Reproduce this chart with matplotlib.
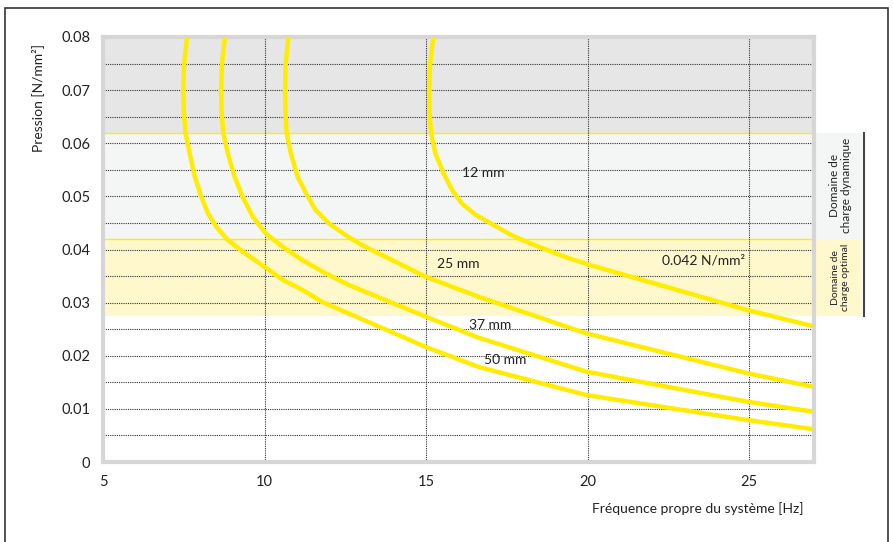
import matplotlib.pyplot as plt
from matplotlib.patches import Rectangle
import matplotlib.transforms as mtransforms

plt.rcParams['font.family'] = ['Lato', 'DejaVu Sans']

# curves: frequency [Hz] vs pressure [N/mm2]
f_50 = [7.60, 7.51, 7.48, 7.50, 7.55, 7.68, 7.84, 8.04, 8.25, 8.50, 8.86, 9.32, 9.94, 10.56,
        11.17, 11.79, 14.97, 16.62, 19.96, 24.94, 26.95]
p_50 = [0.080, 0.075, 0.070, 0.066, 0.062, 0.0581, 0.0537, 0.0499, 0.0468, 0.0443, 0.0418, 0.0396,
        0.0370, 0.0343, 0.0324, 0.0301, 0.0217, 0.0179, 0.0126, 0.0079, 0.0062]

f_37 = [8.77, 8.68, 8.65, 8.67, 8.72, 8.86, 9.07, 9.32, 9.63, 10.04, 10.56, 11.17, 11.89, 12.61,
        14.97, 16.62, 19.96, 24.94, 26.95]
p_37 = [0.080, 0.075, 0.070, 0.066, 0.062, 0.0581, 0.0537, 0.0499, 0.0462, 0.0430, 0.0405, 0.0380,
        0.0355, 0.0333, 0.0274, 0.0234, 0.0170, 0.01135, 0.0095]

f_25 = [10.74, 10.65, 10.63, 10.64, 10.68, 10.81, 11.02, 11.28, 11.58, 11.99, 12.51, 13.02,
        14.97, 16.62, 19.96, 24.94, 26.95]
p_25 = [0.080, 0.075, 0.070, 0.066, 0.062, 0.0581, 0.0537, 0.0506, 0.0474, 0.0449, 0.0427, 0.0408,
        0.0349, 0.0311, 0.0242, 0.0167, 0.0142]

f_12 = [15.22, 15.12, 15.09, 15.10, 15.15, 15.28, 15.54, 15.80, 16.10, 16.51, 17.03, 17.64, 18.36,
        19.29, 20.11, 24.94, 26.95]
p_12 = [0.080, 0.075, 0.070, 0.066, 0.062, 0.0581, 0.0543, 0.0512, 0.0487, 0.0466, 0.0448, 0.0427,
        0.0408, 0.0386, 0.0370, 0.0286, 0.0256]

curve_labels = ['12 mm', '25 mm', '37 mm', '50 mm']
label_pos = [(16.77, 0.0544), (16.0, 0.0373), (16.99, 0.0258), (17.45, 0.0192)]

# load ranges
dyn_range = (0.042, 0.062)
opt_range = (0.0275, 0.042)
x_ticks = [5, 10, 15, 20, 25]
y_ticks = [0, 0.01, 0.02, 0.03, 0.04, 0.05, 0.06, 0.07, 0.08]

yellow = '#ffec00'
fig = plt.figure(figsize=(8.93, 5.42), dpi=100)
ax = fig.add_axes([103 / 893, 1 - 462 / 542, 711 / 893, 425 / 542])
ax.set_xlim(5, 27)
ax.set_ylim(0, 0.08)

# background bands
ax.axhspan(dyn_range[1], 0.08, color='#e6e6e6', zorder=0, lw=0)
ax.axhspan(dyn_range[0], dyn_range[1], color='#f4f6f5', zorder=0, lw=0)
ax.axhspan(opt_range[0], opt_range[1], color='#fff8cc', zorder=0, lw=0)
ax.axhline(dyn_range[1], color=yellow, lw=1, zorder=1)
ax.axhline(dyn_range[0], color=yellow, lw=1, zorder=1)

# grid
for y in [i * 0.005 for i in range(1, 16)]:
    ax.axhline(y, color='#333333', lw=0.8, ls=(0, (1, 1)), zorder=2)
for x in x_ticks[1:]:
    ax.axvline(x, color='#333333', lw=0.8, ls=(0, (1, 1)), zorder=2)

for f, p in [(f_50, p_50), (f_37, p_37), (f_25, p_25), (f_12, p_12)]:
    ax.plot(f, p, color=yellow, lw=3.2, solid_capstyle='butt', solid_joinstyle='round', zorder=3)

for lab, (x, y) in zip(curve_labels, label_pos):
    ax.text(x, y, lab, ha='center', va='center', fontsize=10, color='#222222', zorder=4)
ax.text(23.58, 0.0380, '0.042 N/mm²', ha='center', va='center', fontsize=10, color='#222222', zorder=4)

ax.set_xticks(x_ticks)
ax.set_yticks(y_ticks)
ax.set_yticklabels(['0'] + ['%.2f' % v for v in y_ticks[1:]])
ax.tick_params(length=0, labelsize=10.5, colors='#222222', pad=9)
for s in ax.spines.values():
    s.set_color('#d6d6d6')
    s.set_linewidth(3)

# side boxes for load ranges
trans = mtransforms.blended_transform_factory(ax.transAxes, ax.transData)
x0, x1 = 1.0, 1.067
ax.add_patch(Rectangle((x0, dyn_range[0]), x1 - x0, dyn_range[1] - dyn_range[0],
                       transform=trans, color='#f4f6f5', lw=0, clip_on=False, zorder=0))
ax.add_patch(Rectangle((x0, opt_range[0]), x1 - x0, opt_range[1] - opt_range[0],
                       transform=trans, color='#fff8cc', lw=0, clip_on=False, zorder=0))
ax.plot([1.07, 1.07], [opt_range[0], dyn_range[1]], transform=trans, color='#444444',
        lw=1.5, clip_on=False)
ax.text(1.037, 0.052, 'Domaine de\ncharge dynamique', transform=trans, rotation=90,
        ha='center', va='center', fontsize=8.5, color='#222222', linespacing=1.1)
ax.text(1.037, 0.0348, 'Domaine de\ncharge optimal', transform=trans, rotation=90,
        ha='center', va='center', fontsize=7.5, color='#222222', linespacing=1.1)

fig.text(38 / 893, 1 - 98 / 542, 'Pression [N/mm²]', rotation=90, ha='center', va='center',
         fontsize=10, color='#222222')
fig.text(804 / 893, 1 - 509 / 542, 'Fréquence propre du système [Hz]', ha='right', va='center',
         fontsize=10, color='#222222')

# outer frame
fig.patches.append(Rectangle((5 / 893, -0.1), 883 / 893, 1.1 - 8 / 542, transform=fig.transFigure,
                             fill=False, ec='#333333', lw=1.2))

fig.savefig('out.png', dpi=100)
